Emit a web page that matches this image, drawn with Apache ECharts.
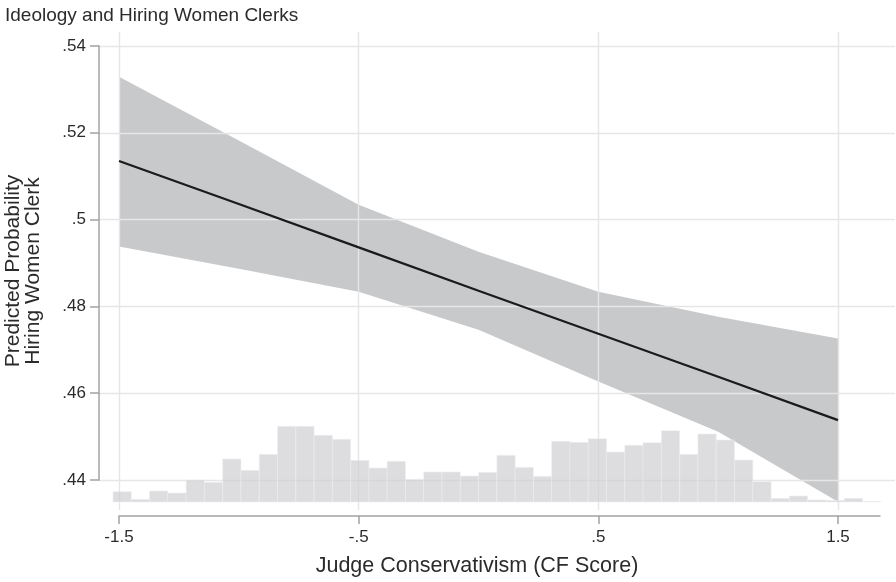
<!DOCTYPE html>
<html>
<head>
<meta charset="utf-8">
<title>Ideology and Hiring Women Clerks</title>
<script src="https://cdn.jsdelivr.net/npm/echarts@6/dist/echarts.min.js"></script>
<style>
  html, body { margin: 0; padding: 0; background: #ffffff; }
  #chart { width: 896px; height: 582px; }
</style>
</head>
<body>
<div id="chart"></div>
<script>
// Judge CF score grid at which the margins were evaluated
const cfScore = [-1.5, -1.0, -0.5, 0.0, 0.5, 1.0, 1.5];
// Predicted probability of hiring a woman clerk, with 95% CI
const predicted = [0.5135, 0.5036, 0.4936, 0.4836, 0.4737, 0.4638, 0.4538];
const ciUpper   = [0.5329, 0.5182, 0.5034, 0.4926, 0.4834, 0.4776, 0.4726];
const ciLower   = [0.4938, 0.4887, 0.4834, 0.4746, 0.4627, 0.4511, 0.4350];

// Distribution of judge CF scores (histogram density, equal-width bins)
const histStart = -1.525;
const histBinWidth = 0.07627;
const histDensity = [
  0.103, 0.027, 0.110, 0.090, 0.220, 0.197, 0.430, 0.317, 0.477, 0.757,
  0.757, 0.667, 0.627, 0.417, 0.340, 0.407, 0.227, 0.300, 0.300, 0.260,
  0.297, 0.467, 0.347, 0.257, 0.607, 0.597, 0.633, 0.500, 0.567, 0.593,
  0.713, 0.477, 0.680, 0.620, 0.420, 0.203, 0.037, 0.060, 0.020, 0.015,
  0.037, 0.005
];

// Axis ticks
const xTicks = [-1.5, -0.5, 0.5, 1.5];
const yTicks = [0.44, 0.46, 0.48, 0.50, 0.52, 0.54];

// ---- layout (pixels) ----
const FONT = '"Liberation Sans", Arial, Helvetica, sans-serif';
const TEXT = '#2b2b2b';
const GRID_COLOR = '#e6e6e6';
const AXIS_COLOR = '#a3a3a3';
const plotLeft = 99, plotRight = 895, plotTop = 32, plotBottom = 510;
const xTickLeftPx = 119, xTickRightPx = 838;     // pixel of first / last x tick
const yTickTopPx = 46, yTickBottomPx = 480;       // pixel of top / bottom y tick
const xAxisEndPx = 880, xAxisLinePx = 516, histBasePx = 502;

const pxPerX = (xTickRightPx - xTickLeftPx) / (xTicks[xTicks.length - 1] - xTicks[0]);
const pxPerY = (yTickBottomPx - yTickTopPx) / (yTicks[yTicks.length - 1] - yTicks[0]);
const xMinPlot = xTicks[0] - (xTickLeftPx - plotLeft) / pxPerX;
const xMaxPlot = xTicks[xTicks.length - 1] + (plotRight - xTickRightPx) / pxPerX;
const yMaxPlot = yTicks[yTicks.length - 1] + (yTickTopPx - plotTop) / pxPerY;
const yMinPlot = yTicks[0] - (plotBottom - yTickBottomPx) / pxPerY;
const xMaxAxis = xTicks[xTicks.length - 1] + (xAxisEndPx - xTickRightPx) / pxPerX;

const dropZero = v => {
  const s = (Math.round(v * 100) / 100).toString();
  return s.replace(/^(-?)0\./, '$1.');
};

const chart = echarts.init(document.getElementById('chart'), null, { renderer: 'canvas' });

const hidden = { show: false };
const baseGrid = { containLabel: false, outerBoundsMode: 'none' };

const option = {
  animation: false,
  backgroundColor: '#ffffff',
  title: {
    text: 'Ideology and Hiring Women Clerks',
    left: 5, top: 6, padding: 0,
    textStyle: { fontFamily: FONT, fontSize: 19, fontWeight: 'normal', color: TEXT }
  },
  grid: [
    // 0: plot region (band, line, grid lines)
    Object.assign({ left: plotLeft, top: plotTop, width: plotRight - plotLeft, height: plotBottom - plotTop }, baseGrid),
    // 1: y axis line spanning the tick range
    Object.assign({ left: plotLeft, top: yTickTopPx, width: plotRight - plotLeft, height: yTickBottomPx - yTickTopPx }, baseGrid),
    // 2: x axis line below the plot region
    Object.assign({ left: xTickLeftPx, top: 100, width: xAxisEndPx - xTickLeftPx, height: xAxisLinePx - 100 }, baseGrid),
    // 3: histogram strip along the bottom
    Object.assign({ left: plotLeft, top: histBasePx - 100, width: plotRight - plotLeft, height: 100 }, baseGrid)
  ],
  xAxis: [
    {
      gridIndex: 0, type: 'value', min: xMinPlot, max: xMaxPlot, z: 2,
      axisLine: hidden,
      axisTick: { show: false, customValues: xTicks },
      axisLabel: { show: false, customValues: xTicks },
      splitLine: { show: true, lineStyle: { color: GRID_COLOR, width: 1.4 } }
    },
    {
      gridIndex: 1, type: 'value', min: xMinPlot, max: xMaxPlot,
      axisLine: hidden, axisTick: hidden, axisLabel: hidden, splitLine: hidden
    },
    {
      gridIndex: 2, type: 'value', min: xTicks[0], max: xMaxAxis, z: 5,
      axisLine: { show: true, onZero: false, lineStyle: { color: AXIS_COLOR, width: 1.5 } },
      axisTick: { show: true, length: 8, customValues: xTicks, lineStyle: { color: AXIS_COLOR, width: 1.5 } },
      axisLabel: {
        show: true, customValues: xTicks, margin: 13, formatter: dropZero,
        fontFamily: FONT, fontSize: 17, color: TEXT
      },
      splitLine: hidden
    },
    {
      gridIndex: 3, type: 'value', min: xMinPlot, max: xMaxPlot,
      axisLine: hidden, axisTick: hidden, axisLabel: hidden, splitLine: hidden
    }
  ],
  yAxis: [
    {
      gridIndex: 0, type: 'value', min: yMinPlot, max: yMaxPlot, z: 2,
      axisLine: hidden,
      axisTick: { show: false, customValues: yTicks },
      axisLabel: { show: false, customValues: yTicks },
      splitLine: { show: true, lineStyle: { color: GRID_COLOR, width: 1.4 } },
      name: 'Predicted Probability\nHiring Women Clerk',
      nameLocation: 'middle', nameRotate: 90, nameGap: 56,
      nameTextStyle: { fontFamily: FONT, fontSize: 21, lineHeight: 20, color: TEXT }
    },
    {
      gridIndex: 1, type: 'value', min: yTicks[0], max: yTicks[yTicks.length - 1], z: 5,
      axisLine: { show: true, onZero: false, lineStyle: { color: AXIS_COLOR, width: 1.5 } },
      axisTick: { show: true, length: 9, customValues: yTicks, lineStyle: { color: AXIS_COLOR, width: 1.5 } },
      axisLabel: {
        show: true, customValues: yTicks, margin: 13, formatter: dropZero,
        fontFamily: FONT, fontSize: 17, color: TEXT
      },
      splitLine: hidden
    },
    {
      gridIndex: 2, type: 'value', min: 0, max: 1,
      axisLine: hidden, axisTick: hidden, axisLabel: hidden, splitLine: hidden
    },
    {
      gridIndex: 3, type: 'value', min: 0, max: 1,
      axisLine: hidden, axisTick: hidden, axisLabel: hidden, splitLine: hidden
    }
  ],
  graphic: [
    {
      type: 'text', x: 477, y: 566, z: 10,
      style: {
        text: 'Judge Conservativism (CF Score)',
        fontFamily: FONT, fontSize: 21.5, fill: TEXT,
        textAlign: 'center', textVerticalAlign: 'middle'
      }
    }
  ],
  series: [
    {
      // 95% confidence band
      type: 'custom', name: 'CI', xAxisIndex: 0, yAxisIndex: 0, z: 1,
      silent: true,
      data: [0],
      renderItem: function (params, api) {
        const pts = [];
        for (let i = 0; i < cfScore.length; i++) pts.push(api.coord([cfScore[i], ciUpper[i]]));
        for (let i = cfScore.length - 1; i >= 0; i--) pts.push(api.coord([cfScore[i], ciLower[i]]));
        return { type: 'polygon', shape: { points: pts }, style: { fill: '#c8c9cb', stroke: null } };
      }
    },
    {
      // histogram of judge scores
      type: 'custom', name: 'Density', xAxisIndex: 3, yAxisIndex: 3, z: 3,
      silent: true,
      data: histDensity.map((d, i) => [i, d]),
      renderItem: function (params, api) {
        const i = api.value(0);
        const h = api.value(1);
        const x0 = histStart + i * histBinWidth;
        const p0 = api.coord([x0, h]);
        const p1 = api.coord([x0 + histBinWidth, 0]);
        return {
          type: 'rect',
          shape: { x: p0[0], y: p0[1], width: p1[0] - p0[0], height: p1[1] - p0[1] },
          style: { fill: 'rgba(205,205,209,0.68)', stroke: 'rgba(238,238,240,0.7)', lineWidth: 0.8 }
        };
      }
    },
    {
      type: 'line', name: 'Predicted', xAxisIndex: 0, yAxisIndex: 0, z: 4,
      data: cfScore.map((x, i) => [x, predicted[i]]),
      symbol: 'none', silent: true,
      lineStyle: { color: '#1b1b1b', width: 2.3 }
    }
  ]
};

chart.setOption(option);
</script>
</body>
</html>
